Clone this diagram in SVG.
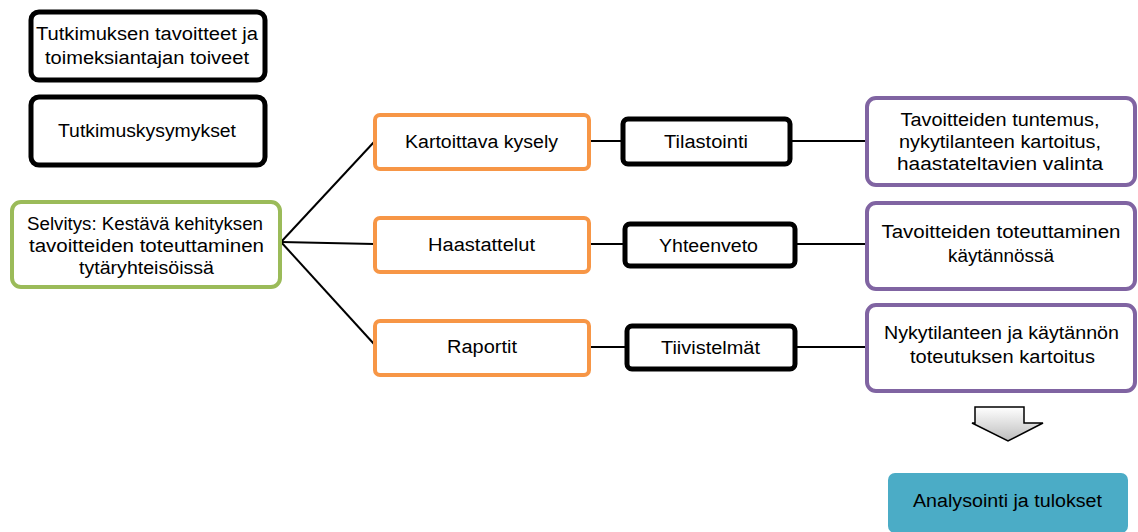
<svg xmlns="http://www.w3.org/2000/svg" width="1138" height="532" viewBox="0 0 1138 532">
<defs>
<style>
text{font-family:"Liberation Sans",Arial,sans-serif;font-size:18px;fill:#000;text-anchor:middle}
.blk{fill:#fff;stroke:#000;stroke-width:5}
.grn{fill:#fff;stroke:#9BBB59;stroke-width:4}
.org{fill:#fff;stroke:#F79646;stroke-width:4}
.pur{fill:#fff;stroke:#8064A2;stroke-width:4}
.ln{stroke:#000;stroke-width:2;fill:none}
</style>
<linearGradient id="ag" x1="0" y1="0" x2="0" y2="1">
<stop offset="0" stop-color="#ffffff"/>
<stop offset="1" stop-color="#bdbdbd"/>
</linearGradient>
</defs>
<g id="connectors">
<line class="ln" x1="281" y1="242" x2="374" y2="142"/>
<line class="ln" x1="281" y1="242" x2="374" y2="244"/>
<line class="ln" x1="281" y1="242" x2="374" y2="344"/>
<line class="ln" x1="589" y1="141" x2="622" y2="141"/>
<line class="ln" x1="790" y1="141" x2="866" y2="141"/>
<line class="ln" x1="589" y1="244" x2="624" y2="244"/>
<line class="ln" x1="795" y1="244" x2="866" y2="244"/>
<line class="ln" x1="589" y1="347" x2="626" y2="347"/>
<line class="ln" x1="795" y1="347" x2="866" y2="347"/>
</g>
<g id="n-tavoitteet">
<rect class="blk" x="31" y="12" width="234" height="68" rx="8"/>
<text x="147" y="40" textLength="222" lengthAdjust="spacingAndGlyphs">Tutkimuksen tavoitteet ja</text>
<text x="147" y="64" textLength="204" lengthAdjust="spacingAndGlyphs">toimeksiantajan toiveet</text>
</g>
<g id="n-kysymykset">
<rect class="blk" x="31" y="97" width="234" height="68" rx="8"/>
<text x="147" y="137" textLength="178" lengthAdjust="spacingAndGlyphs">Tutkimuskysymykset</text>
</g>
<g id="n-selvitys">
<rect class="grn" x="12" y="202" width="268" height="85" rx="9"/>
<text x="145" y="230" textLength="236" lengthAdjust="spacingAndGlyphs">Selvitys: Kestävä kehityksen</text>
<text x="146.5" y="252" textLength="235" lengthAdjust="spacingAndGlyphs">tavoitteiden toteuttaminen</text>
<text x="146.5" y="274" textLength="135" lengthAdjust="spacingAndGlyphs">tytäryhteisöissä</text>
</g>
<g id="n-kysely">
<rect class="org" x="375" y="115" width="214" height="54" rx="5"/>
<text x="481.5" y="148" textLength="153" lengthAdjust="spacingAndGlyphs">Kartoittava kysely</text>
</g>
<g id="n-haastattelut">
<rect class="org" x="375" y="218" width="214" height="54" rx="5"/>
<text x="481.5" y="251" textLength="107" lengthAdjust="spacingAndGlyphs">Haastattelut</text>
</g>
<g id="n-raportit">
<rect class="org" x="375" y="321" width="214" height="54" rx="5"/>
<text x="482" y="353" textLength="70" lengthAdjust="spacingAndGlyphs">Raportit</text>
</g>
<g id="n-tilastointi">
<rect class="blk" x="623" y="119" width="167" height="45" rx="5"/>
<text x="706" y="148" textLength="84" lengthAdjust="spacingAndGlyphs">Tilastointi</text>
</g>
<g id="n-yhteenveto">
<rect class="blk" x="625" y="224" width="170" height="42" rx="5"/>
<text x="708.5" y="252" textLength="99" lengthAdjust="spacingAndGlyphs">Yhteenveto</text>
</g>
<g id="n-tiivistelmat">
<rect class="blk" x="627" y="326" width="168" height="43" rx="5"/>
<text x="710.5" y="354" textLength="99" lengthAdjust="spacingAndGlyphs">Tiivistelmät</text>
</g>
<g id="n-tuntemus">
<rect class="pur" x="867" y="98" width="268" height="87" rx="9"/>
<text x="1000" y="126" textLength="199" lengthAdjust="spacingAndGlyphs">Tavoitteiden tuntemus,</text>
<text x="1000" y="148" textLength="202" lengthAdjust="spacingAndGlyphs">nykytilanteen kartoitus,</text>
<text x="1000" y="170" textLength="206" lengthAdjust="spacingAndGlyphs">haastateltavien valinta</text>
</g>
<g id="n-kaytannossa">
<rect class="pur" x="867" y="203" width="268" height="86" rx="9"/>
<text x="1001" y="238" textLength="239" lengthAdjust="spacingAndGlyphs">Tavoitteiden toteuttaminen</text>
<text x="1001" y="262" textLength="106" lengthAdjust="spacingAndGlyphs">käytännössä</text>
</g>
<g id="n-nykytilanne">
<rect class="pur" x="867" y="305" width="268" height="86" rx="9"/>
<text x="1001.5" y="339" textLength="235" lengthAdjust="spacingAndGlyphs">Nykytilanteen ja käytännön</text>
<text x="1002.5" y="363" textLength="185" lengthAdjust="spacingAndGlyphs">toteutuksen kartoitus</text>
</g>
<g id="n-arrow">
<polygon points="975,407 1024,407 1024,423 1043,423 1008,441 972,423 975,423" fill="url(#ag)" stroke="#000" stroke-width="1.5" stroke-linejoin="miter"/>
</g>
<g id="n-analysointi">
<rect x="888" y="473" width="240" height="60" rx="7" fill="#4BACC6"/>
<text x="1007.5" y="507" textLength="189" lengthAdjust="spacingAndGlyphs">Analysointi ja tulokset</text>
</g>
</svg>
